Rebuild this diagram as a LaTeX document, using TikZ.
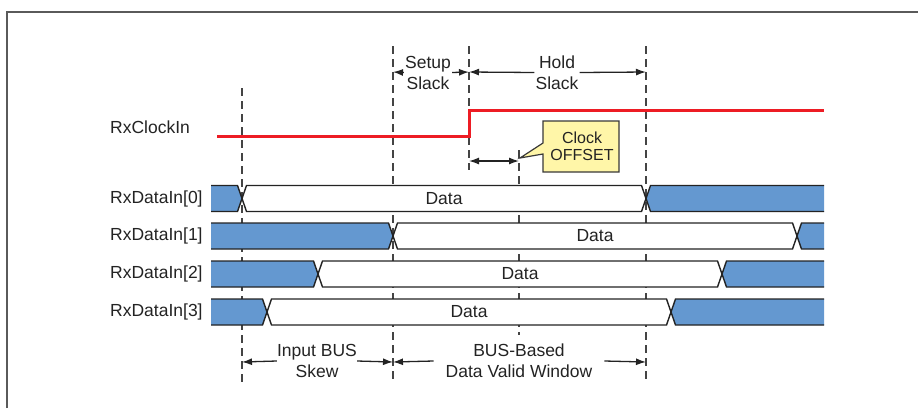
\documentclass[tikz,border=0pt]{standalone}
\usepackage{fontspec}
\setmainfont{Liberation Sans}
\usetikzlibrary{arrows.meta}
\definecolor{busblue}{RGB}{100,152,208}
\definecolor{clkred}{RGB}{237,28,36}
\definecolor{notefill}{RGB}{255,246,168}
\definecolor{ink}{RGB}{35,35,35}
\definecolor{framegray}{RGB}{90,90,90}
\begin{document}
\begin{tikzpicture}[x=1pt,y=-1pt,
  lbl/.style={inner sep=0pt,text=ink,font=\fontsize{17.5}{21}\selectfont,align=center},
  guide/.style={draw=ink!85,line width=1.4pt,dash pattern=on 8pt off 5pt},
  wave/.style={draw=ink,line width=1.4pt,line join=miter},
  busfill/.style={fill=busblue},
  clk/.style={draw=clkred,line width=3pt},
  dim/.style={draw=ink,line width=1.3pt,-{Latex[length=10pt,width=7pt]}},
  dimboth/.style={draw=ink,line width=1.3pt,{Latex[length=10pt,width=7pt]}-{Latex[length=10pt,width=7pt]}}]
\useasboundingbox (0,0) rectangle (918,408);

% open frame: top and left edges
\draw[framegray,line width=2pt] (7,408) -- (7,12) -- (918,12);

% vertical timing guides
\coordinate (gA1) at (242,88);  \coordinate (gA2) at (242,383);
\coordinate (gB1) at (393,46);  \coordinate (gB2) at (393,383);
\coordinate (gC1) at (469,46);  \coordinate (gC2) at (469,170);
\coordinate (gD1) at (519,150); \coordinate (gD2) at (519,335);
\coordinate (gE1) at (646,46);  \coordinate (gE2) at (646,383);
\foreach \a/\b in {gA1/gA2,gB1/gB2,gC1/gC2,gD1/gD2,gE1/gE2}
  \draw[guide] (\a) -- (\b);

% clock waveform
\node[lbl,anchor=west] (clklbl) at (110,127) {RxClockIn};
\coordinate (c0) at (217,136);
\coordinate (c1) at (469,136);
\coordinate (c2) at (469,110);
\coordinate (c3) at (824,110);
\draw[clk] (c0) -- (c1) -- (c2) -- (c3);

% data bus lanes: centre y / first crossing / second crossing / bit
\foreach \yc/\xa/\xb/\i in {198.5/242/646/0, 236/393/797/1, 274/318/722/2, 312/267/671/3} {
  \node[lbl,anchor=west] (lane\i) at (110,\yc) {RxDataIn[\i]};
  % leading invalid region
  \fill[busfill] (211,\yc-13) -- (\xa-4.5,\yc-13) -- (\xa,\yc) -- (\xa-4.5,\yc+13) -- (211,\yc+13) -- cycle;
  \draw[wave] (211,\yc-13) -- (\xa-4.5,\yc-13) -- (\xa,\yc) -- (\xa-4.5,\yc+13) -- (211,\yc+13);
  % valid data window
  \filldraw[wave,fill=white] (\xa,\yc) -- (\xa+4.5,\yc-13) -- (\xb-4.5,\yc-13) -- (\xb,\yc)
     -- (\xb-4.5,\yc+13) -- (\xa+4.5,\yc+13) -- cycle;
  \node[lbl] (data\i) at ({(\xa+\xb)/2},\yc) {Data};
  % trailing invalid region
  \fill[busfill] (\xb,\yc) -- (\xb+4.5,\yc-13) -- (824,\yc-13) -- (824,\yc+13) -- (\xb+4.5,\yc+13) -- cycle;
  \draw[wave] (824,\yc-13) -- (\xb+4.5,\yc-13) -- (\xb,\yc) -- (\xb+4.5,\yc+13) -- (824,\yc+13);
}

% setup / hold slack dimensions
\coordinate (sL) at (393,72);
\coordinate (sM) at (469,72);
\coordinate (sR) at (646,72);
\node[lbl,inner xsep=1pt] (setup) at (428,72.5) {Setup\\Slack};
\node[lbl,inner xsep=1pt] (hold) at (557,72.5) {Hold\\Slack};
\draw[dim] (setup.west) -- (sL);
\draw[dim] (setup.east) -- (sM);
\draw[dim] (hold.west) -- (sM);
\draw[dim] (hold.east) -- (sR);

% clock offset dimension and note
\coordinate (oL) at (469,161);
\coordinate (oR) at (519,161);
\draw[dimboth] (oL) -- (oR);
\coordinate (tip) at (520,158);
\draw[draw=ink!90,line width=1.2pt,fill=notefill,line join=miter]
  (543,121) -- (619,121) -- (619,172) -- (543,172) -- (543,154) -- (tip) -- (543,143) -- cycle;
\node[lbl,font=\fontsize{16}{17}\selectfont] (offset) at (582,146) {Clock\\OFFSET};

% skew and valid window dimensions
\coordinate (kL) at (242,362);
\coordinate (kM) at (393,362);
\coordinate (kR) at (646,362);
\node[lbl,inner xsep=0pt] (skew) at (317,361) {Input BUS\\Skew};
\node[lbl,inner xsep=12pt] (window) at (519,361) {BUS-Based\\Data Valid Window};
\draw[dim] (skew.west) -- (kL);
\draw[dim] (skew.east) -- (kM);
\draw[dim] (window.west) -- (kM);
\draw[dim] (window.east) -- (kR);
\end{tikzpicture}
\end{document}
